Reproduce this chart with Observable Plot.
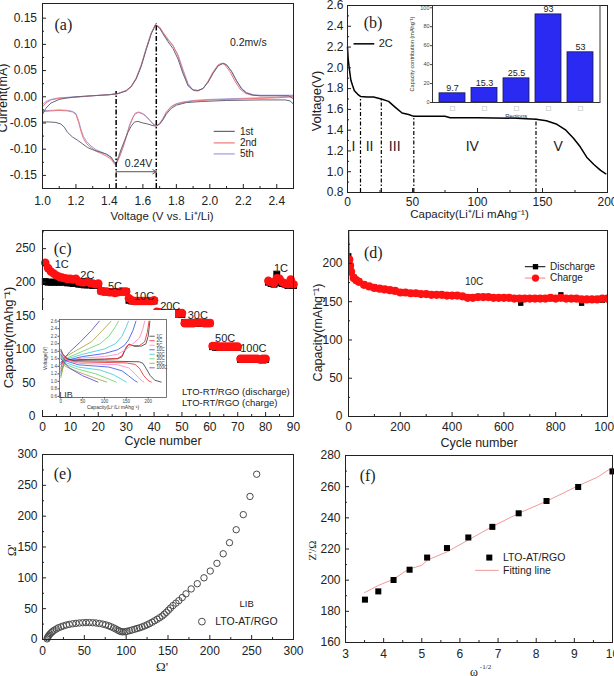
<!DOCTYPE html>
<html>
<head>
<meta charset="utf-8">
<script src="https://cdn.jsdelivr.net/npm/d3@7"></script>
<script src="https://cdn.jsdelivr.net/npm/@observablehq/plot@0.6"></script>
<style>
  html, body { margin: 0; padding: 0; background: #fff; }
  #fig { position: relative; width: 614px; height: 676px; overflow: hidden; background: #fff; }
  #fig svg { position: absolute; }
</style>
</head>
<body>
<div id="fig"></div>
<script>
// ================= DATA =================
// (a) cyclic voltammetry [voltage, current]
const cvLabels = ["1st", "2nd", "5th"];
const cvColors = ["#66667a", "#f07878", "#9c9ce8"];
const cv1st = [[1.0,-0.034],[1.02,-0.022],[1.05,-0.012],[1.1,-0.005],[1.15,-0.002],[1.2,0.0],[1.3,0.002],[1.4,0.004],[1.45,0.006],[1.5,0.011],[1.53,0.019],[1.56,0.034],[1.59,0.058],[1.62,0.09],[1.65,0.12],[1.675,0.137],[1.7,0.131],[1.72,0.12],[1.75,0.105],[1.78,0.092],[1.81,0.072],[1.84,0.044],[1.87,0.021],[1.9,0.013],[1.93,0.012],[1.96,0.016],[1.99,0.028],[2.02,0.045],[2.05,0.059],[2.08,0.064],[2.1,0.061],[2.13,0.048],[2.16,0.03],[2.19,0.015],[2.22,0.007],[2.26,0.003],[2.3,0.002],[2.4,0.002],[2.47,0.002],[2.5,-0.004],
  [2.5,-0.014],[2.48,-0.008],[2.45,-0.006],[2.3,-0.006],[2.1,-0.007],[1.95,-0.009],[1.86,-0.011],[1.8,-0.016],[1.77,-0.022],[1.74,-0.033],[1.72,-0.044],[1.7,-0.052],[1.68,-0.056],[1.66,-0.055],[1.63,-0.052],[1.6,-0.05],[1.57,-0.047],[1.55,-0.048],[1.53,-0.056],[1.51,-0.068],[1.49,-0.084],[1.47,-0.1],[1.455,-0.114],[1.44,-0.127],[1.43,-0.125],[1.41,-0.115],[1.38,-0.109],[1.34,-0.105],[1.3,-0.101],[1.27,-0.097],[1.24,-0.09],[1.21,-0.083],[1.18,-0.077],[1.15,-0.068],[1.13,-0.058],[1.11,-0.052],[1.08,-0.049],[1.04,-0.048],[1.0,-0.048]];
const cv2nd = [[1.0,-0.019],[1.02,-0.012],[1.05,-0.006],[1.1,-0.003],[1.2,-0.001],[1.3,0.002],[1.4,0.004],[1.45,0.006],[1.5,0.012],[1.53,0.02],[1.56,0.035],[1.59,0.06],[1.62,0.092],[1.65,0.122],[1.675,0.138],[1.7,0.133],[1.72,0.123],[1.75,0.11],[1.78,0.098],[1.81,0.078],[1.84,0.048],[1.87,0.022],[1.9,0.012],[1.93,0.011],[1.96,0.016],[1.99,0.03],[2.02,0.048],[2.05,0.061],[2.07,0.064],[2.09,0.061],[2.12,0.048],[2.15,0.03],[2.18,0.015],[2.21,0.007],[2.25,0.003],[2.3,0.002],[2.4,0.002],[2.5,0.002],
  [2.5,0.0],[2.4,-0.002],[2.2,-0.004],[2.0,-0.006],[1.9,-0.008],[1.84,-0.011],[1.8,-0.014],[1.77,-0.019],[1.74,-0.03],[1.72,-0.042],[1.7,-0.052],[1.68,-0.056],[1.66,-0.052],[1.64,-0.045],[1.62,-0.038],[1.6,-0.033],[1.575,-0.03],[1.555,-0.032],[1.54,-0.04],[1.52,-0.056],[1.5,-0.078],[1.48,-0.098],[1.46,-0.115],[1.445,-0.126],[1.435,-0.13],[1.425,-0.126],[1.41,-0.119],[1.38,-0.113],[1.35,-0.108],[1.32,-0.104],[1.29,-0.097],[1.265,-0.09],[1.245,-0.08],[1.23,-0.066],[1.215,-0.048],[1.2,-0.034],[1.18,-0.029],[1.15,-0.027],[1.1,-0.026],[1.05,-0.027],[1.0,-0.028]];
const cv5th = [[1.0,-0.015],[1.02,-0.009],[1.05,-0.005],[1.1,-0.002],[1.2,0.0],[1.3,0.002],[1.4,0.004],[1.45,0.006],[1.5,0.012],[1.53,0.02],[1.56,0.036],[1.59,0.061],[1.62,0.093],[1.65,0.122],[1.675,0.137],[1.7,0.132],[1.72,0.122],[1.75,0.108],[1.78,0.097],[1.81,0.08],[1.84,0.052],[1.87,0.025],[1.9,0.013],[1.93,0.012],[1.96,0.016],[1.99,0.029],[2.02,0.046],[2.05,0.06],[2.08,0.064],[2.1,0.061],[2.13,0.049],[2.16,0.031],[2.19,0.016],[2.22,0.008],[2.26,0.004],[2.3,0.003],[2.4,0.003],[2.5,0.003],
  [2.5,0.001],[2.4,-0.001],[2.2,-0.003],[2.0,-0.005],[1.9,-0.007],[1.84,-0.01],[1.8,-0.013],[1.77,-0.018],[1.74,-0.029],[1.72,-0.041],[1.7,-0.051],[1.68,-0.055],[1.66,-0.051],[1.64,-0.044],[1.62,-0.037],[1.6,-0.032],[1.575,-0.029],[1.555,-0.031],[1.54,-0.039],[1.52,-0.054],[1.5,-0.076],[1.48,-0.096],[1.46,-0.113],[1.445,-0.124],[1.435,-0.128],[1.425,-0.124],[1.41,-0.116],[1.38,-0.11],[1.35,-0.105],[1.32,-0.101],[1.29,-0.094],[1.265,-0.086],[1.245,-0.076],[1.23,-0.062],[1.215,-0.045],[1.2,-0.032],[1.18,-0.028],[1.15,-0.026],[1.1,-0.025],[1.05,-0.026],[1.0,-0.027]];
const peakVolts = [1.44, 1.68];
const peakTops = [0.01, 0.14];

// (b) discharge curve at 2C
const capB = [0,0.5,1.3,2.6,3.9,5.3,7.9,10,15,20,26,31.6,36.8,42,47,51,60,75,79,100,130,145,153,160.5,168,174,179,184,189.5,194.7,198.7];
const voltB = [2.2,2.09,2.0,1.88,1.83,1.78,1.745,1.725,1.72,1.72,1.70,1.677,1.62,1.565,1.55,1.533,1.533,1.533,1.52,1.52,1.515,1.504,1.49,1.46,1.40,1.32,1.24,1.14,1.07,1.013,0.98];
const regionBounds = [10, 26, 51, 145];
const regionBoundTops = [1.725, 1.70, 1.535, 1.505];
const regionNames = ["I", "II", "III", "IV", "V"];
const regionLabelCap = [4.5, 17, 36.3, 96, 162];
const regionCapacity = [9.7, 15.3, 25.5, 93, 53];

// (c) rate performance
const cCycles = d3.range(1, 91);
const cDischarge = [201,200,200,200,200,200,200,200,199,199,
  198,198,197,197,196,196,196,195,195,195,
  187,186,186,186,186,186,186,186,186,186,
  173,172,172,172,172,172,172,172,172,172,
  153,152,152,152,152,152,152,152,152,152,
  140,139,139,139,139,139,139,139,139,139,
  104,103,103,103,103,103,103,103,103,103,
  85,85,85,85,85,85,85,85,84,85,
  200,198,197,212,199,198,197,195,196,195];
const cCharge = [229,221,216,213,210,208,207,206,205,205,
  204,205,201,200,200,201,199,198,197,198,
  187,186,186,185,185,184,185,186,186,186,
  176,173,172,172,172,172,172,172,172,173,
  156,155,154,154,154,154,154,153,154,154,
  139,139,139,139,140,140,140,139,139,139,
  105,105,104,104,104,104,104,104,104,104,
  86,86,86,86,86,86,86,85,86,86,
  202,200,199,206,205,200,198,197,204,197];
const rateLabels = ["1C","2C","5C","10C","20C","30C","50C","100C","1C"];
const rateLabelCycle = [6.9,16.1,26,36.4,45.8,55.7,65.5,75.6,85.5];
const rateLabelCap = [226,210,193.6,179,163.8,150.4,116.5,101.6,221];

// (c) inset: voltage profiles [capacity, voltage]
const insetRates = ["1C","2C","5C","10C","20C","30C","50C","100C"];
const insetColors = ["#333333","#ee2222","#ff7fbf","#2a4cf0","#33c8d8","#5fd35f","#a0a03c","#5a3cc8"];
const insetCharge = [
  [[0,1.45],[5,1.55],[15,1.57],[50,1.58],[100,1.59],[130,1.6],[140,1.65],[148,1.85],[155,1.98],[162,1.96],[170,1.93],[185,1.94],[195,2.0],[200,2.2],[204,2.6]],
  [[0,1.35],[5,1.53],[20,1.57],[100,1.59],[130,1.61],[140,1.68],[150,1.92],[157,1.99],[165,1.95],[180,1.95],[192,2.05],[198,2.3],[202,2.6]],
  [[0,1.3],[10,1.55],[50,1.62],[100,1.66],[130,1.72],[150,1.85],[165,2.0],[180,2.15],[188,2.4],[192,2.6]],
  [[0,1.25],[10,1.55],[50,1.66],[100,1.74],[130,1.84],[145,1.95],[155,2.1],[165,2.35],[172,2.6]],
  [[0,1.2],[10,1.58],[50,1.72],[100,1.86],[125,2.0],[140,2.2],[150,2.45],[155,2.6]],
  [[0,1.15],[10,1.6],[50,1.8],[90,2.0],[110,2.2],[125,2.45],[132,2.6]],
  [[0,1.1],[10,1.65],[40,1.85],[70,2.05],[95,2.35],[115,2.6]],
  [[0,1.5],[20,1.78],[45,2.05],[70,2.35],[88,2.6]]];
const insetDischarge = [
  [[0,1.85],[5,1.72],[15,1.6],[30,1.55],[100,1.54],[180,1.52],[188,1.48],[195,1.35],[205,1.15],[215,1.03],[230,0.98]],
  [[0,1.8],[10,1.62],[30,1.52],[150,1.49],[170,1.45],[180,1.35],[190,1.15],[200,1.02],[207,0.98]],
  [[0,1.75],[10,1.58],[40,1.48],[130,1.44],[155,1.36],[170,1.2],[180,1.07],[190,0.98]],
  [[0,1.72],[10,1.55],[40,1.44],[110,1.38],[140,1.28],[155,1.15],[168,1.03],[175,0.98]],
  [[0,1.7],[10,1.5],[40,1.38],[90,1.3],[120,1.18],[140,1.05],[150,0.98]],
  [[0,1.68],[10,1.45],[40,1.32],[80,1.2],[110,1.06],[127,0.98]],
  [[0,1.65],[10,1.4],[40,1.25],[75,1.1],[105,0.98]],
  [[0,1.6],[20,1.35],[50,1.15],[85,0.98]]];

// (d) long cycling at 10C [cycle, capacity]
const dDischarge = [[1,210],[5,197],[10,190],[20,182],[30,179],[40,177],[60,173],[80,171],[100,169],[120,167],[140,166],[160,165],[180,164],[200,163],[220,162],[240,161],[260,161],[280,160],[300,160],[320,159],[340,159],[360,159],[380,158],[400,158],[420,158],[440,157],[460,156],[480,156],[500,156],[520,156],[540,156],[560,155],[580,155],[600,155],[620,155],[640,154],[665,148],[680,154],[700,154],[720,154],[740,154],[760,154],[780,154],[800,154],[820,159],[840,154],[860,153],[880,153],[900,148],[920,153],[940,153],[960,153],[980,152],[1000,153]];
const dCharge = [[1,250],[3,205],[6,197],[10,189],[20,181],[30,178],[40,176],[60,172],[80,170],[100,168],[120,167],[140,166],[160,165],[180,164],[200,162],[220,162],[240,161],[260,161],[280,160],[300,160],[320,159],[340,159],[360,159],[380,158],[400,158],[420,158],[440,157],[460,155],[480,155],[500,156],[520,156],[540,156],[560,155],[580,155],[600,155],[620,155],[640,154],[660,154],[680,154],[700,154],[720,154],[740,154],[760,154],[780,155],[800,154],[820,155],[840,154],[860,154],[880,154],[900,153],[920,153],[940,153],[960,153],[980,154],[1000,154]];

// (e) Nyquist plot [Z', Z'']
const eRe = [5.5,6,6.8,7.8,9,10.5,12,14,16.5,19,22,25,28.5,32,36,40,44,48,52,56,60,64,68,72,75.5,79,82,85,87.5,90,92,94,96,98.5,101,104,107,110,113,116,119,122,125,128,131,134,137,140,143,145.5,148,150.5,153,156,159.5,163,167,171.5,177.7,185,193,200.5,208.5,216,223.5,231.5,240,248,256];
const eIm = [1,3,5,7,9,11,13,15,17,19,20.5,22,23.5,24.5,25.5,26.2,26.8,27.2,27.4,27.4,27.2,26.8,26,25,23.8,22.3,20.6,18.8,17,15.2,13.8,12.8,12.4,12.6,13.3,14.3,15.4,16.6,17.8,19,20.4,22,23.8,25.8,28,30.4,32.8,35.3,38,41,44,47.5,51,55,59,63,68,74,82,90.5,100,111,123.5,139,157,178,202.5,232,268];

// (f) Warburg fit
const fOmega = [3.51,3.86,4.26,4.68,5.14,5.66,6.22,6.85,7.54,8.27,9.1,10.0];
const fZ = [187.5,192.8,200.1,206.7,214.5,220.6,227.4,234.2,242.9,250.8,259.8,269.8];
const fitOmega = [3.5,3.85,4.25,4.65,5.0,5.15,5.65,6.2,6.85,7.55,8.3,9.1,9.6,10.0];
const fitZ = [192,196.5,200.5,207,209.5,213,218,225.5,234.4,243,251,260.6,266,272.4];

// ================= HELPERS =================
const SANS = "'Liberation Sans', Arial, Helvetica, sans-serif";
const SERIF = "'Liberation Serif', 'Times New Roman', serif";
const INK = "#222";
const fig = document.getElementById("fig");
function place(svg, left, top) {
  svg.style.left = left + "px";
  svg.style.top = top + "px";
  fig.appendChild(svg);
}
function axes(o) {
  const tl = o.tl ?? 4, ml = o.ml ?? 2, fs = o.fs ?? 12, color = o.color ?? INK;
  const out = [
    Plot.axisX({ticks: o.xTicks, anchor: "bottom", tickSize: -tl, tickPadding: (o.xOff ?? 6) + tl, tickFormat: o.xFmt ?? (d => String(d)), label: null, fontSize: fs, color}),
    Plot.axisY({ticks: o.yTicks, anchor: "left", tickSize: -tl, tickPadding: (o.yOff ?? 5) + tl, tickFormat: o.yFmt ?? (d => String(d)), label: null, fontSize: fs, color})
  ];
  if (o.xMinor) out.push(Plot.axisX({ticks: o.xMinor, anchor: "bottom", tickSize: -ml, tickFormat: () => "", label: null, color}));
  if (o.yMinor) out.push(Plot.axisY({ticks: o.yMinor, anchor: "left", tickSize: -ml, tickFormat: () => "", label: null, color}));
  return out;
}
function xTitle(txt, opts) {
  return Plot.text([txt], {text: d => d, fill: INK, fontSize: 12, fontFamily: SANS, frameAnchor: "bottom", textAnchor: "middle", lineAnchor: "middle", ...opts});
}
function yTitle(txt, opts) {
  return Plot.text([txt], {text: d => d, fill: INK, fontSize: 12.5, fontFamily: SANS, frameAnchor: "left", rotate: -90, textAnchor: "middle", lineAnchor: "middle", ...opts});
}
const baseStyle = {fontFamily: SANS, fontSize: "12px", background: "transparent", overflow: "visible", color: INK};

// ================= (a) =================
{
  const cvSets = [cv5th, cv2nd, cv1st];
  const cvIdx = [2, 1, 0];
  const legendI = [-0.066, -0.088, -0.109];
  const svg = Plot.plot({
    width: 307, height: 225, marginLeft: 42, marginRight: 14, marginTop: 3, marginBottom: 37,
    x: {domain: [1.0, 2.5]}, y: {domain: [-0.175, 0.178]},
    style: baseStyle,
    marks: [
      ...cvSets.map((s, k) => Plot.line(s, {x: d => d[0], y: d => d[1], stroke: cvColors[cvIdx[k]], strokeWidth: 1})),
      Plot.ruleX(peakVolts, {x: d => d, y1: -0.175, y2: (d, i) => peakTops[i], stroke: "#000", strokeWidth: 1.5, strokeDasharray: "5,2,1.5,2"}),
      Plot.arrow([0], {x1: peakVolts[0], x2: peakVolts[1], y1: -0.143, y2: -0.143, stroke: "#555", strokeWidth: 1, headLength: 6}),
      Plot.text(["0.24V"], {text: d => d, x: 1.574, y: -0.128, fontSize: 10.5, fill: INK}),
      Plot.text(["0.2mv/s"], {text: d => d, x: 2.23, y: 0.103, fontSize: 10.5, fill: INK}),
      Plot.text(["(a)"], {text: d => d, x: 1.125, y: 0.137, fontSize: 16, fontFamily: SERIF, fill: INK}),
      Plot.ruleY(cvLabels, {y: (d, i) => legendI[i], x1: 2.026, x2: 2.152, stroke: (d, i) => cvColors[i], strokeWidth: 1.2}),
      Plot.text(cvLabels, {text: d => d, x: 2.18, y: (d, i) => legendI[i], textAnchor: "start", fontSize: 10, fill: INK}),
      Plot.frame({stroke: INK}),
      ...axes({xTicks: d3.range(1.0, 2.41, 0.2), xMinor: d3.range(1.1, 2.51, 0.2), yTicks: [-0.15,-0.1,-0.05,0,0.05,0.1,0.15], yMinor: [-0.125,-0.075,-0.025,0.025,0.075,0.125],
        xFmt: d => d.toFixed(1), yFmt: d => d.toFixed(2), xOff: 8, yOff: 5.5}),
      xTitle("Voltage (V vs. Li\u207A/Li)", {dx: -6, dy: 27.5, fontSize: 11.5}),
      yTitle("Current(mA)", {dx: -40, dy: 2})
    ]
  });
  place(svg, 0, 0);
}

// ================= (b) =================
{
  const svg = Plot.plot({
    width: 307, height: 225, marginLeft: 40, marginRight: 7, marginTop: 5, marginBottom: 33,
    x: {domain: [0, 200]}, y: {domain: [0.8, 2.6]},
    style: baseStyle,
    marks: [
      Plot.line(capB, {x: d => d, y: (d, i) => voltB[i], stroke: "#000", strokeWidth: 1.5}),
      Plot.ruleX(regionBounds, {x: d => d, y1: 0.8, y2: (d, i) => regionBoundTops[i], stroke: "#000", strokeWidth: 1.2, strokeDasharray: "4,2,1.5,2"}),
      Plot.text(regionNames, {text: d => d, x: (d, i) => regionLabelCap[i], y: 1.244, fontSize: 14, fill: INK}),
      Plot.ruleY([2.231], {y: d => d, x1: 5, x2: 21, stroke: "#000", strokeWidth: 1.5}),
      Plot.text(["2C"], {text: d => d, x: 24, y: 2.231, textAnchor: "start", fontSize: 11, fill: INK}),
      Plot.text(["(b)"], {text: d => d, x: 19.7, y: 2.43, fontSize: 16, fontFamily: SERIF, fill: INK}),
      Plot.frame({stroke: INK}),
      ...axes({xTicks: [0,50,100,150,200], xMinor: [25,75,125,175], yTicks: d3.range(0.8, 2.61, 0.2), yMinor: d3.range(0.9, 2.51, 0.2),
        yFmt: d => d.toFixed(1), xOff: 4.5, yOff: 4}),
      xTitle("Capacity(Li\u207A/Li mAhg\u207B\u00B9)", {dx: -8, dy: 22, fontSize: 11.5}),
      yTitle("Voltage(V)", {dx: -31, dy: 2, fontSize: 13})
    ]
  });
  place(svg, 307, 0);

  const ins = Plot.plot({
    width: 200, height: 122, marginLeft: 32, marginRight: 0.5, marginTop: 5, marginBottom: 20,
    x: {domain: regionNames, padding: 0.2}, y: {domain: [0, 102.4]},
    style: {...baseStyle, fontSize: "6px"},
    marks: [
      Plot.barY(regionNames, {x: d => d, y: (d, i) => regionCapacity[i], fill: "#2a2af2", stroke: "#1a1a40", strokeWidth: 0.8}),
      Plot.text(regionNames, {text: (d, i) => String(regionCapacity[i]), x: d => d, y: (d, i) => regionCapacity[i], dy: -5, fontSize: 9, fill: INK}),
      Plot.frame({stroke: "#333", strokeWidth: 1}),
      Plot.axisY({ticks: [0,20,40,60,80,100], tickSize: 2, tickPadding: 1, fontSize: 5.5, label: null, color: "#444"}),
      Plot.axisX({tickFormat: () => "\u25A1", tickSize: 0, tickPadding: 3, fontSize: 8, label: null, color: "#888"}),
      Plot.text(["Regions"], {text: d => d, frameAnchor: "bottom", lineAnchor: "middle", textAnchor: "middle", dy: 13.5, fontSize: 6, fill: "#333"}),
      Plot.text(["Capacity contribution (mAhg\u207B\u00B9)"], {text: d => d, frameAnchor: "left", rotate: -90, textAnchor: "middle", lineAnchor: "middle", dx: -20, fontSize: 5.5, fill: "#333"})
    ]
  });
  place(ins, 400, 0);
}

// ================= (c) =================
{
  const legendY = [36.9, 20.5];
  const svg = Plot.plot({
    width: 307, height: 225, marginLeft: 42, marginRight: 14, marginTop: 5, marginBottom: 34,
    x: {domain: [0, 90]}, y: {domain: [0, 277]},
    style: baseStyle,
    marks: [
      Plot.dot(cCycles, {x: d => d, y: (d, i) => cDischarge[i], symbol: "square", r: 3.9, fill: "#000"}),
      Plot.dot(cCycles, {x: d => d, y: (d, i) => cCharge[i], r: 4.3, fill: "#ff1111"}),
      Plot.text(rateLabels, {text: d => d, x: (d, i) => rateLabelCycle[i], y: (d, i) => rateLabelCap[i], fontSize: 11, fill: INK}),
      Plot.text(["(c)"], {text: d => d, x: 7.2, y: 250, fontSize: 16, fontFamily: SERIF, fill: INK}),
      Plot.dot([0], {x: 46.1, y: legendY[0], symbol: "square", r: 3.2, fill: "#000"}),
      Plot.dot([0], {x: 46.1, y: legendY[1], r: 3.6, fill: "#ff1111"}),
      Plot.text(["LTO-RT/RGO (discharge)", "LTO-RT/RGO (charge)"], {text: d => d, x: 50, y: (d, i) => legendY[i], textAnchor: "start", fontSize: 9.5, fill: INK}),
      Plot.frame({stroke: INK}),
      ...axes({xTicks: d3.range(0, 91, 10), xMinor: d3.range(5, 90, 10), yTicks: [0,50,100,150,200,250], yMinor: [25,75,125,175,225,275], xOff: 6, yOff: 7}),
      xTitle("Cycle number", {dx: -5, dy: 24, fontSize: 12.5}),
      yTitle("Capacity(mAhg\u207B\u00B9)", {dx: -34, dy: 14, fontSize: 13})
    ]
  });
  place(svg, 0, 225);

  const ins = Plot.plot({
    width: 135, height: 100, marginLeft: 19, marginRight: 9, marginTop: 9, marginBottom: 13,
    x: {domain: [-3, 242]}, y: {domain: [0.57, 2.645]},
    style: {...baseStyle, fontSize: "4.5px", background: "#fff"},
    marks: [
      ...insetCharge.map((s, k) => Plot.line(s, {x: d => d[0], y: d => d[1], stroke: insetColors[k], strokeWidth: 0.8, clip: true})),
      ...insetDischarge.map((s, k) => Plot.line(s, {x: d => d[0], y: d => d[1], stroke: insetColors[k], strokeWidth: 0.8, clip: true})),
      Plot.ruleY(insetRates, {y: (d, i) => 2.2 - i * 0.12, x1: 204, x2: 216, stroke: (d, i) => insetColors[i], strokeWidth: 0.8}),
      Plot.text(insetRates, {text: d => d, x: 219, y: (d, i) => 2.2 - i * 0.12, textAnchor: "start", fontSize: 4.5, fill: "#333"}),
      Plot.text(["LIB"], {text: d => d, x: 12, y: 0.64, fontSize: 9, fill: "#333"}),
      Plot.frame({stroke: "#555", strokeWidth: 0.8}),
      Plot.axisX({ticks: [0,50,100,150,200], tickSize: 1.5, tickPadding: 1, fontSize: 4.5, label: null, color: "#444"}),
      Plot.axisY({ticks: d3.range(0.6, 2.61, 0.2), tickSize: 1.5, tickPadding: 1, tickFormat: d => d.toFixed(1), fontSize: 4.5, label: null, color: "#444"}),
      Plot.text(["Capacity(Li\u207A/Li mAhg\u207B\u00B9)"], {text: d => d, frameAnchor: "bottom", textAnchor: "middle", lineAnchor: "middle", dy: 10, fontSize: 5, fill: "#333"}),
      Plot.text(["Voltage(V)"], {text: d => d, frameAnchor: "left", rotate: -90, textAnchor: "middle", lineAnchor: "middle", dx: -14, fontSize: 5, fill: "#333"})
    ]
  });
  place(ins, 40, 310);
}

// ================= (d) =================
{
  const svg = Plot.plot({
    width: 307, height: 225, marginLeft: 41, marginRight: 7, marginTop: 5, marginBottom: 34,
    x: {domain: [0, 1000]}, y: {domain: [0, 243]},
    style: baseStyle,
    marks: [
      Plot.line(dDischarge, {x: d => d[0], y: d => d[1], stroke: "#000", strokeWidth: 1, clip: true}),
      Plot.dot(dDischarge, {x: d => d[0], y: d => d[1], symbol: "square", r: 3.0, fill: "#000", clip: true}),
      Plot.line(dCharge, {x: d => d[0], y: d => d[1], stroke: "#ff2020", strokeWidth: 1, clip: true}),
      Plot.dot(dCharge, {x: d => d[0], y: d => d[1], r: 4.1, fill: "#ff1111", clip: true}),
      Plot.ruleY([195.7], {y: d => d, x1: 683, x2: 762, stroke: "#000", strokeWidth: 1}),
      Plot.dot([0], {x: 722, y: 195.7, symbol: "square", r: 3, fill: "#000"}),
      Plot.ruleY([180.9], {y: d => d, x1: 683, x2: 762, stroke: "#ff8080", strokeWidth: 1}),
      Plot.dot([0], {x: 722, y: 180.9, r: 3.6, fill: "#ff1111"}),
      Plot.text(["Discharge", "Charge"], {text: d => d, x: 778, y: (d, i) => [195.7, 180.9][i], textAnchor: "start", fontSize: 10, fill: INK}),
      Plot.text(["10C"], {text: d => d, x: 485, y: 176, fontSize: 10, fill: INK}),
      Plot.text(["(d)"], {text: d => d, x: 96, y: 214, fontSize: 16, fontFamily: SERIF, fill: INK}),
      Plot.frame({stroke: INK}),
      ...axes({xTicks: [0,200,400,600,800,1000], xMinor: [100,300,500,700,900], yTicks: [0,50,100,150,200], yMinor: [25,75,125,175,225], xOff: 6, yOff: 6}),
      xTitle("Cycle number", {dx: 1, dy: 26, fontSize: 12.5}),
      yTitle("Capacity(mAhg\u207B\u00B9)", {dx: -31, dy: 9, fontSize: 12.5})
    ]
  });
  place(svg, 307, 225);
}

// ================= (e) =================
{
  const svg = Plot.plot({
    width: 307, height: 226, marginLeft: 42, marginRight: 14, marginTop: 4, marginBottom: 37,
    x: {domain: [0, 300]}, y: {domain: [0, 300]},
    style: baseStyle,
    marks: [
      Plot.dot(eRe, {x: d => d, y: (d, i) => eIm[i], r: 3.2, stroke: "#4a4a4a", strokeWidth: 1, fill: "none"}),
      Plot.dot([0], {x: 190.5, y: 29, r: 3.4, stroke: "#4a4a4a", strokeWidth: 1, fill: "none"}),
      Plot.text(["LTO-AT/RGO"], {text: d => d, x: 206.4, y: 29, textAnchor: "start", fontSize: 10.5, fill: INK}),
      Plot.text(["LIB"], {text: d => d, x: 244, y: 58, fontSize: 9.5, fill: INK}),
      Plot.text(["(e)"], {text: d => d, x: 24, y: 268.7, fontSize: 16, fontFamily: SERIF, fill: INK}),
      Plot.frame({stroke: INK}),
      ...axes({xTicks: [0,50,100,150,200,250,300], xMinor: [25,75,125,175,225,275], yTicks: [0,50,100,150,200,250,300], yMinor: [25,75,125,175,225,275], xOff: 6.5, yOff: 5}),
      xTitle("\u03A9'", {dx: -6, dy: 27.4, fontFamily: SERIF, fontSize: 13}),
      yTitle("\u03A9'", {dx: -30.6, dy: 3.3, fontFamily: SERIF, fontSize: 13})
    ]
  });
  place(svg, 0, 450);
}

// ================= (f) =================
{
  const svg = Plot.plot({
    width: 307, height: 226, marginLeft: 38, marginRight: 2, marginTop: 5, marginBottom: 34,
    x: {domain: [3, 10]}, y: {domain: [160, 280]},
    style: baseStyle,
    marks: [
      Plot.line(fitOmega, {x: d => d, y: (d, i) => fitZ[i], stroke: "#f29a9a", strokeWidth: 1}),
      Plot.dot(fOmega, {x: d => d, y: (d, i) => fZ[i], symbol: "square", r: 3.4, fill: "#000"}),
      Plot.dot([0], {x: 6.77, y: 214.5, symbol: "square", r: 3.4, fill: "#000"}),
      Plot.text(["LTO-AT/RGO"], {text: d => d, x: 7.13, y: 214.5, textAnchor: "start", fontSize: 10.5, fill: INK}),
      Plot.ruleY([206.3], {y: d => d, x1: 6.41, x2: 7.03, stroke: "#f29a9a", strokeWidth: 1}),
      Plot.text(["Fitting line"], {text: d => d, x: 7.13, y: 206.3, textAnchor: "start", fontSize: 10.5, fill: INK}),
      Plot.text(["(f)"], {text: d => d, x: 3.58, y: 267.2, fontSize: 16, fontFamily: SERIF, fill: INK}),
      Plot.frame({stroke: INK}),
      ...axes({xTicks: [3,4,5,6,7,8,9,10], xMinor: [3.5,4.5,5.5,6.5,7.5,8.5,9.5], yTicks: [160,180,200,220,240,260,280], yMinor: [170,190,210,230,250,270], xOff: 7, yOff: 5}),
      xTitle("\u03C9", {dx: -5, dy: 29.4, fontFamily: SERIF, fontSize: 12}),
      xTitle("-1/2", {dx: 6.5, dy: 24.4, fontFamily: SERIF, fontSize: 7}),
      yTitle("Z'/\u03A9", {dx: -33.3, dy: 1.5, fontFamily: SERIF, fontSize: 11})
    ]
  });
  place(svg, 307, 450);
}
</script>
</body>
</html>
